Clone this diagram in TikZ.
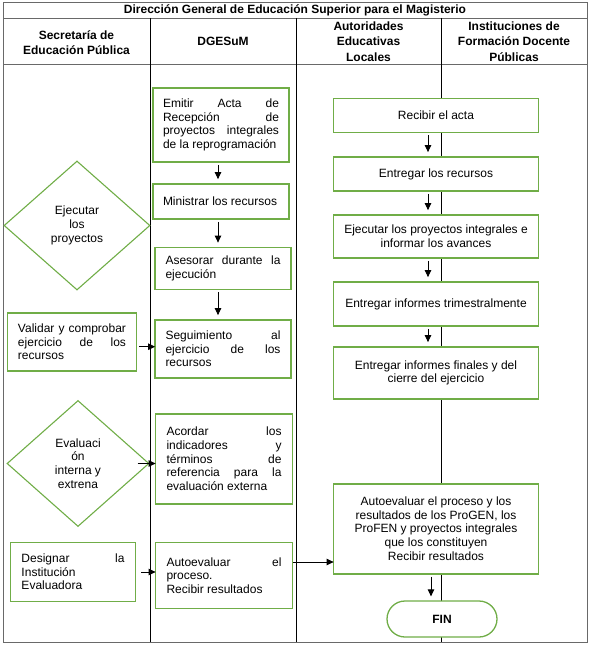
\documentclass[tikz,border=0pt]{standalone}
\usepackage{fontspec}
\setmainfont{Liberation Sans}
\usetikzlibrary{shapes.geometric,arrows.meta}
\definecolor{boxgreen}{RGB}{112,173,71}
\definecolor{rulegray}{RGB}{105,105,105}
\hyphenpenalty=10000
\begin{document}
\begin{tikzpicture}[x=1bp, y=-1bp,
        txt/.style={font=\fontsize{12bp}{13.7bp}\selectfont},
        head/.style={font=\bfseries\fontsize{12bp}{15.5bp}\selectfont, align=center},
        jbox/.style n args={4}{draw=boxgreen, line width=1.8bp, fill=white, txt, inner sep=2bp,
            align=justify, text width=#1bp, minimum width=#2bp, minimum height=#3bp},
        cbox/.style={draw=boxgreen, line width=1.8bp, fill=white, txt, inner sep=2bp,
            align=center, minimum width=205bp, minimum height=#1bp},
        dbox/.style={draw=boxgreen, line width=1.1bp, diamond, txt, align=center, inner sep=0pt},
        arr/.style={-{Triangle[length=7bp,width=6.5bp]}, line width=0.8bp, shorten <=2bp, shorten >=4bp},
        harr/.style={arr, shorten <=0bp, shorten >=-1bp}]
    \useasboundingbox (0,0) rectangle (590,646);
    \draw[rulegray, line width=0.8bp] (3,2) rectangle (587,642);
    \draw[rulegray, line width=0.8bp] (3,18) -- (587,18);
    \draw[rulegray, line width=0.8bp] (3,64) -- (587,64);
    \foreach \cx in {150,296,441}
        \draw[line width=0.8bp] (\cx,18) -- (\cx,642);
    \node[head] (title) at (295,10) {Dirección General de Educación Superior para el Magisterio};
    \node[head] (hsep) at (76.5,42.5) {Secretaría de\\Educación Pública};
    \node[head] (hdge) at (223,41.5) {DGESuM};
    \node[head] (hael) at (368.5,41.5) {Autoridades\\Educativas\\Locales};
    \node[head] (hifd) at (514,41.5) {Instituciones de\\Formación Docente\\Públicas};
    \node[dbox, minimum width=146bp, minimum height=129bp] (ejec) at (77,225.5) {Ejecutar\\los\\proyectos};
    \node[jbox={108}{129}{58}] (validar) at (72,342) {Validar y comprobar\linebreak ejercicio de los\linebreak recursos};
    \node[dbox, minimum width=142bp, minimum height=126bp] (evalu) at (78,463.5) {Evaluaci\\ón\\interna y\\extrena};
    \node[jbox={103}{125}{59}] (designar) at (73,572) {Designar la\linebreak Institución\\Evaluadora};
    \node[jbox={116}{136}{74}] (emitir) at (221,125) {Emitir Acta de\linebreak Recepción de\linebreak proyectos integrales\linebreak de la reprogramación};
    \node[jbox={116}{136}{35}] (ministrar) at (221,201.5) {Ministrar los recursos};
    \node[jbox={115}{136}{42}] (asesorar) at (223,268.5) {Asesorar durante la\linebreak ejecución};
    \node[jbox={115}{136}{58}] (seguim) at (223,349) {Seguimiento al\linebreak ejercicio de los\linebreak recursos};
    \node[jbox={115}{137}{90}] (acordar) at (224,459) {Acordar los\linebreak indicadores y\linebreak términos de\linebreak referencia para la\linebreak evaluación externa};
    \node[jbox={115}{137}{66}] (autoev) at (224,575.5) {Autoevaluar el\linebreak proceso.\\Recibir resultados};
    \node[cbox=34] (recibir) at (436,115.5) {Recibir el acta};
    \node[cbox=34] (entregar) at (436,174) {Entregar los recursos};
    \node[cbox=43] (ejecpi) at (436,236.5) {Ejecutar los proyectos integrales e\\informar los avances};
    \node[cbox=44] (trimest) at (436,304) {Entregar informes trimestralmente};
    \node[cbox=52] (finales) at (436,373) {Entregar informes finales y del\\cierre del ejercicio};
    \node[cbox=90] (autoinst) at (436,528.7) {Autoevaluar el proceso y los\\resultados de los ProGEN, los\\ProFEN y proyectos integrales\\que los constituyen\\Recibir resultados};
    \node[draw=boxgreen, line width=1.3bp, fill=white, rounded corners=18bp, minimum width=110bp,
        minimum height=36bp, font=\bfseries\fontsize{12bp}{14bp}\selectfont] (fin) at (442,619) {FIN};
    \coordinate (midlane) at (218,0);
    \coordinate (rightlane) at (428,0);
    \coordinate (finlane) at (431,0);
    \foreach \a/\b in {emitir/ministrar,ministrar/asesorar,asesorar/seguim}
        \draw[arr] (\a.south -| midlane) -- (\b.north -| midlane);
    \foreach \a/\b in {recibir/entregar,entregar/ejecpi,ejecpi/trimest,trimest/finales}
        \draw[arr] (\a.south -| rightlane) -- (\b.north -| rightlane);
    \draw[arr] (autoinst.south -| finlane) -- (fin.north -| finlane);
    \draw[harr] ([xshift=2bp,yshift=-4.7bp]validar.east) -- ([yshift=-4.7bp]validar.east -| seguim.west);
    \draw[harr] ([xshift=-12bp]evalu.east) -- (evalu.east -| acordar.west);
    \draw[harr] ([xshift=5bp]designar.east) -- (designar.east -| autoev.west);
    \draw[harr] ([yshift=13.5bp]autoev.east) -- ([yshift=13.5bp]autoev.east -| autoinst.west);
\end{tikzpicture}
\end{document}
